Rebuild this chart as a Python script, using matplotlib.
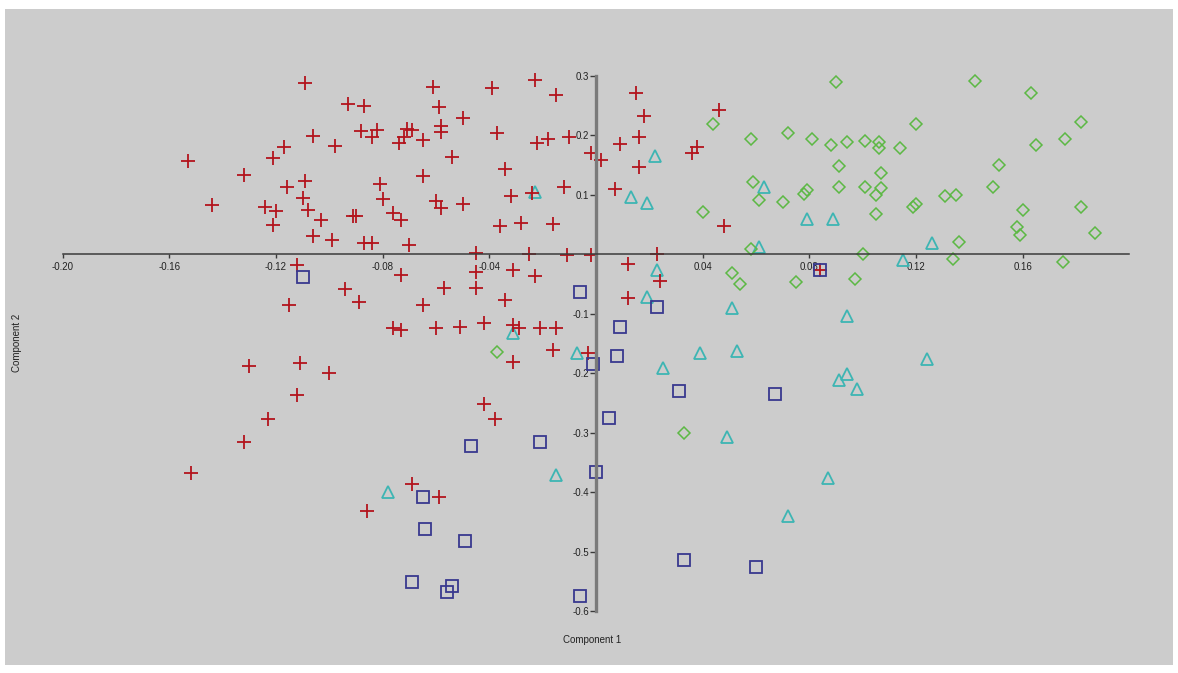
import numpy as np
import matplotlib
matplotlib.use('Agg')
import matplotlib.pyplot as plt
from matplotlib.patches import Rectangle

plt.rcParams['font.family'] = ['Liberation Sans', 'DejaVu Sans']
plt.rcParams['axes.unicode_minus'] = False

# PCA scores (component 1, component 2) per group
grp1_x = [-0.109, -0.093, -0.087, -0.088, -0.082, -0.084, -0.106, -0.098, -0.117, -0.121,
          -0.153, -0.132, -0.109, -0.116, -0.081, -0.110, -0.080, -0.144, -0.124, -0.120,
          -0.108, -0.103, -0.091, -0.090, -0.121, -0.106, -0.099, -0.087, -0.084, -0.074,
          -0.072, -0.071, -0.069, -0.061, -0.039, -0.023, -0.015, -0.059, -0.050, -0.065,
          -0.058, -0.058, -0.037, -0.022, -0.018, -0.010, -0.054, -0.034, -0.065, -0.012,
          -0.032, -0.024, -0.060, -0.058, -0.050, -0.076, -0.073, -0.036, -0.028, -0.016,
          -0.070, -0.045, -0.025, -0.011, -0.002, -0.002, 0.002, 0.018, 0.046, 0.016,
          0.009, 0.038, 0.036, 0.016, 0.007, 0.048, 0.023, 0.015,
          -0.112, -0.094, -0.089, -0.115, -0.076, -0.073, -0.130, -0.111, -0.100, -0.112,
          -0.123, -0.132, -0.152, -0.073, -0.045, -0.031, -0.023, 0.012, 0.024, -0.057,
          -0.045, -0.034, 0.012, -0.065, -0.060, -0.051, -0.042, -0.031, -0.029, -0.021,
          -0.015, -0.016, -0.003, -0.031, -0.042, -0.038, -0.069, -0.059, -0.086, 0.084]
grp1_y = [0.287, 0.252, 0.249, 0.207, 0.208, 0.197, 0.198, 0.182, 0.180, 0.161,
          0.156, 0.133, 0.123, 0.113, 0.118, 0.094, 0.092, 0.082, 0.079, 0.072,
          0.074, 0.057, 0.064, 0.064, 0.049, 0.030, 0.024, 0.018, 0.018, 0.187,
          0.197, 0.210, 0.208, 0.281, 0.279, 0.292, 0.267, 0.247, 0.229, 0.192,
          0.215, 0.205, 0.203, 0.187, 0.193, 0.197, 0.163, 0.143, 0.131, 0.113,
          0.097, 0.103, 0.089, 0.077, 0.084, 0.069, 0.057, 0.047, 0.052, 0.050,
          0.015, 0.002, 0.000, -0.002, -0.002, 0.170, 0.158, 0.232, 0.242, 0.197,
          0.185, 0.180, 0.170, 0.146, 0.109, 0.047, 0.000, 0.271,
          -0.018, -0.059, -0.081, -0.086, -0.124, -0.128, -0.188, -0.183, -0.200, -0.237,
          -0.277, -0.316, -0.368, -0.035, -0.030, -0.027, -0.037, -0.017, -0.045, -0.057,
          -0.057, -0.077, -0.074, -0.086, -0.124, -0.123, -0.116, -0.119, -0.124, -0.124,
          -0.124, -0.161, -0.166, -0.182, -0.252, -0.277, -0.387, -0.408, -0.432, -0.027]

grp2_x = [0.044, 0.058, 0.072, 0.081, 0.088, 0.059, 0.061, 0.070, 0.079, 0.078,
          0.040, 0.058, 0.051, 0.054, 0.075, -0.037, 0.033, 0.097, 0.100, 0.134,
          0.175, 0.090, 0.142, 0.163, 0.120, 0.182, 0.094, 0.101, 0.106, 0.106,
          0.114, 0.165, 0.176, 0.091, 0.151, 0.107, 0.091, 0.101, 0.107, 0.105,
          0.149, 0.131, 0.135, 0.120, 0.119, 0.105, 0.160, 0.182, 0.158, 0.159,
          0.187, 0.136]
grp2_y = [0.218, 0.193, 0.203, 0.193, 0.183, 0.121, 0.091, 0.087, 0.108, 0.101,
          0.071, 0.008, -0.032, -0.050, -0.047, -0.165, -0.301, -0.042, 0.000, -0.008,
          -0.013, 0.289, 0.291, 0.271, 0.218, 0.222, 0.188, 0.190, 0.188, 0.178,
          0.178, 0.183, 0.193, 0.148, 0.150, 0.136, 0.113, 0.113, 0.111, 0.099,
          0.113, 0.097, 0.099, 0.084, 0.079, 0.067, 0.074, 0.079, 0.045, 0.032,
          0.035, 0.020]

grp3_x = [0.022, 0.013, 0.019, -0.023, 0.063, 0.079, 0.089, 0.061, 0.023, 0.126,
          0.115, 0.019, 0.051, -0.031, -0.007, 0.039, 0.053, 0.025, 0.049, -0.015,
          -0.078, 0.094, 0.124, 0.094, 0.091, 0.098, 0.087, 0.072]
grp3_y = [0.165, 0.096, 0.086, 0.104, 0.113, 0.059, 0.059, 0.012, -0.027, 0.018,
          -0.010, -0.072, -0.091, -0.133, -0.166, -0.166, -0.163, -0.192, -0.308, -0.371,
          -0.400, -0.104, -0.176, -0.202, -0.212, -0.227, -0.376, -0.440]

grp4_x = [-0.110, -0.006, 0.023, 0.009, 0.008, -0.001, 0.031, 0.067, 0.005, -0.047,
          -0.021, 0.000, -0.065, -0.064, -0.049, -0.069, -0.054, -0.056, -0.006, 0.033,
          0.060, 0.084]
grp4_y = [-0.039, -0.064, -0.089, -0.123, -0.171, -0.185, -0.230, -0.235, -0.276, -0.323,
          -0.316, -0.366, -0.408, -0.462, -0.482, -0.551, -0.558, -0.568, -0.575, -0.514,
          -0.526, -0.027]

xticks = [-0.20, -0.16, -0.12, -0.08, -0.04, 0.04, 0.08, 0.12, 0.16]
yticks = [0.3, 0.2, 0.1, -0.1, -0.2, -0.3, -0.4, -0.5, -0.6]

fig = plt.figure(figsize=(11.78, 6.73), dpi=100, facecolor='white')
# gray plot panel, kept behind the axes
fig.patches.append(Rectangle((0.0042, 0.0119), 0.9915, 0.9747, transform=fig.transFigure,
                             facecolor='#cccccc', edgecolor='none', zorder=-10))

ax = fig.add_axes([0, 0, 1, 1])
ax.patch.set_visible(False)
ax.set_xlim(-0.2235, 0.2182)
ax.set_ylim(-0.7042, 0.4269)

ax.plot(grp3_x, grp3_y, '^', ms=9, mfc='none', mec='#3db5b3', mew=1.3, ls='none')
ax.plot(grp2_x, grp2_y, 'D', ms=6.5, mfc='none', mec='#5cb844', mew=1.1, ls='none')
ax.plot(grp1_x, grp1_y, '+', ms=10, mec='#b3141c', mew=1.3, ls='none')
ax.plot(grp4_x, grp4_y, 's', ms=8.5, mfc='none', mec='#38388f', mew=1.3, ls='none')

# axes crossing at the origin
for s in ['top', 'right']:
    ax.spines[s].set_visible(False)
ax.spines['left'].set_position(('data', 0))
ax.spines['bottom'].set_position(('data', 0))
ax.spines['left'].set_bounds(-0.6, 0.3)
ax.spines['bottom'].set_bounds(-0.2, 0.2)
ax.spines['left'].set_color('#7a7a7a')
ax.spines['left'].set_linewidth(2.4)
ax.spines['bottom'].set_color('#3a3a3a')
ax.spines['bottom'].set_linewidth(1.1)

ax.set_xticks(xticks)
ax.set_xticklabels(['%.2f' % v for v in xticks])
ax.set_yticks(yticks)
ax.set_yticklabels(['%.1f' % v for v in yticks])
ax.tick_params(axis='x', direction='out', length=3, width=1, color='#3a3a3a',
               pad=3, labelsize=7, labelcolor='#222222')
ax.tick_params(axis='y', direction='out', length=4, width=1, color='#3a3a3a',
               pad=1, labelsize=7, labelcolor='#222222')

fig.text(592 / 1178, 1 - 640 / 673, 'Component 1', ha='center', va='center',
         fontsize=7, color='#222222')
fig.text(17 / 1178, 1 - 343 / 673, 'Component 2', ha='center', va='center',
         rotation=90, fontsize=7, color='#222222')

fig.savefig('out.png', dpi=100, facecolor='white')
